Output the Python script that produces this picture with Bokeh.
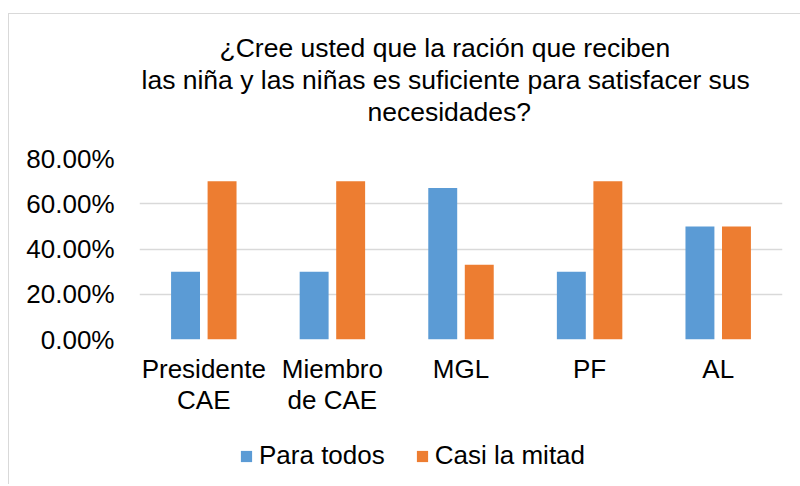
from bokeh.plotting import figure
from bokeh.layouts import column
from bokeh.models import (Range1d, FixedTicker, NumeralTickFormatter, LinearAxis,
                          Legend, LegendItem, ColumnDataSource, Title)
from bokeh.core.properties import value
from bokeh.transform import dodge
from bokeh.embed import file_html
from bokeh.resources import INLINE

# ---- data ----
categories = ["Presidente CAE", "Miembro de CAE", "MGL", "PF", "AL"]
label_line1 = ["Presidente", "Miembro", "MGL", "PF", "AL"]
label_line2 = ["CAE", "de CAE", "", "", ""]
para_todos = [0.30, 0.30, 0.67, 0.30, 0.50]
casi_la_mitad = [0.70, 0.70, 0.33, 0.70, 0.50]
y_ticks = [0.0, 0.2, 0.4, 0.6, 0.8]
series_names = ["Para todos", "Casi la mitad"]
title_lines = ["¿Cree usted que la ración que reciben",
               "las niña y las niñas es suficiente para satisfacer sus",
               "necesidades?"]

FONT = "Liberation Sans"
BLUE = "#5B9BD5"
ORANGE = "#ED7D31"
GRID = "#D9D9D9"

pos = list(range(len(categories)))
source = ColumnDataSource(dict(x=pos, cat=categories, a=para_todos, b=casi_la_mitad))

p = figure(width=791, height=416, x_range=Range1d(-0.5, len(categories) - 0.5),
           y_range=Range1d(0, 0.8), output_backend="svg", toolbar_location=None,
           x_axis_location=None,
           min_border_left=130, min_border_right=18, min_border_top=144,
           min_border_bottom=91)
p.title = None

# title: one Title per line (nearest first), plus an empty spacer next to the plot
p.add_layout(Title(text=" ", text_font=FONT, text_font_size="26.5px", standoff=0), "above")
title_offsets = [80, 2, 228]
for i in [2, 1, 0]:
    p.add_layout(Title(text=title_lines[i], align="left", offset=title_offsets[i],
                       standoff=0, text_font=FONT, text_font_size="26.5px",
                       text_font_style="normal", text_color="#000000"), "above")

r1 = p.vbar(x=dodge("x", -0.142), top="a", width=0.225,
            source=source, fill_color=BLUE, line_color=None)
r2 = p.vbar(x=dodge("x", 0.142), top="b", width=0.225,
            source=source, fill_color=ORANGE, line_color=None)

p.outline_line_color = None
p.xgrid.grid_line_color = None
p.ygrid.grid_line_color = GRID
p.ygrid.grid_line_width = 1.5

p.yaxis.ticker = FixedTicker(ticks=y_ticks)
p.yaxis.formatter = NumeralTickFormatter(format="0.00%")
p.yaxis.axis_line_color = None
p.yaxis.major_tick_line_color = None
p.yaxis.minor_tick_line_color = None
p.yaxis.major_label_standoff = 19
p.yaxis.major_label_text_font = FONT
p.yaxis.major_label_text_font_size = "26px"
p.yaxis.major_label_text_color = "#000000"

# category labels: two axes, one per text line
for lines, standoff in [(label_line1, 8), (label_line2, -8)]:
    ax = LinearAxis(ticker=FixedTicker(ticks=pos),
                    major_label_overrides={k: v for k, v in zip(pos, lines)},
                    axis_line_color=None, major_tick_line_color=None,
                    minor_tick_line_color=None, major_label_standoff=standoff,
                    major_label_text_font=FONT, major_label_text_font_size="26px",
                    major_label_text_color="#000000")
    p.add_layout(ax, "below")

# legend strip below the chart
q = figure(width=791, height=54, x_range=Range1d(0, 1), y_range=Range1d(0, 1),
           output_backend="svg", toolbar_location=None, x_axis_location=None,
           y_axis_location=None, min_border=0)
q.title = None
q.outline_line_color = None
q.xgrid.grid_line_color = None
q.ygrid.grid_line_color = None
k1 = q.vbar(x="x", top="a", width=0.225, source=source, fill_color=BLUE,
            line_color=None, visible=False)
k2 = q.vbar(x="x", top="b", width=0.225, source=source, fill_color=ORANGE,
            line_color=None, visible=False)
legend = Legend(items=[LegendItem(label=value(series_names[0]), renderers=[k1]),
                       LegendItem(label=value(series_names[1]), renderers=[k2])],
                orientation="horizontal", location=(100, 13),
                glyph_width=14, glyph_height=14, label_standoff=6, spacing=30,
                label_text_font=FONT, label_text_font_size="26px",
                label_text_color="#000000", label_height=30, padding=0, margin=0,
                border_line_color=None, background_fill_alpha=0)
q.add_layout(legend, "center")

layout = column(p, q, spacing=0,
                styles={"border-top": "1px solid #D9D9D9", "border-left": "1px solid #D9D9D9",
                        "margin-top": "13px", "margin-left": "8px"})

open("out.html", "w").write(file_html(layout, INLINE))
